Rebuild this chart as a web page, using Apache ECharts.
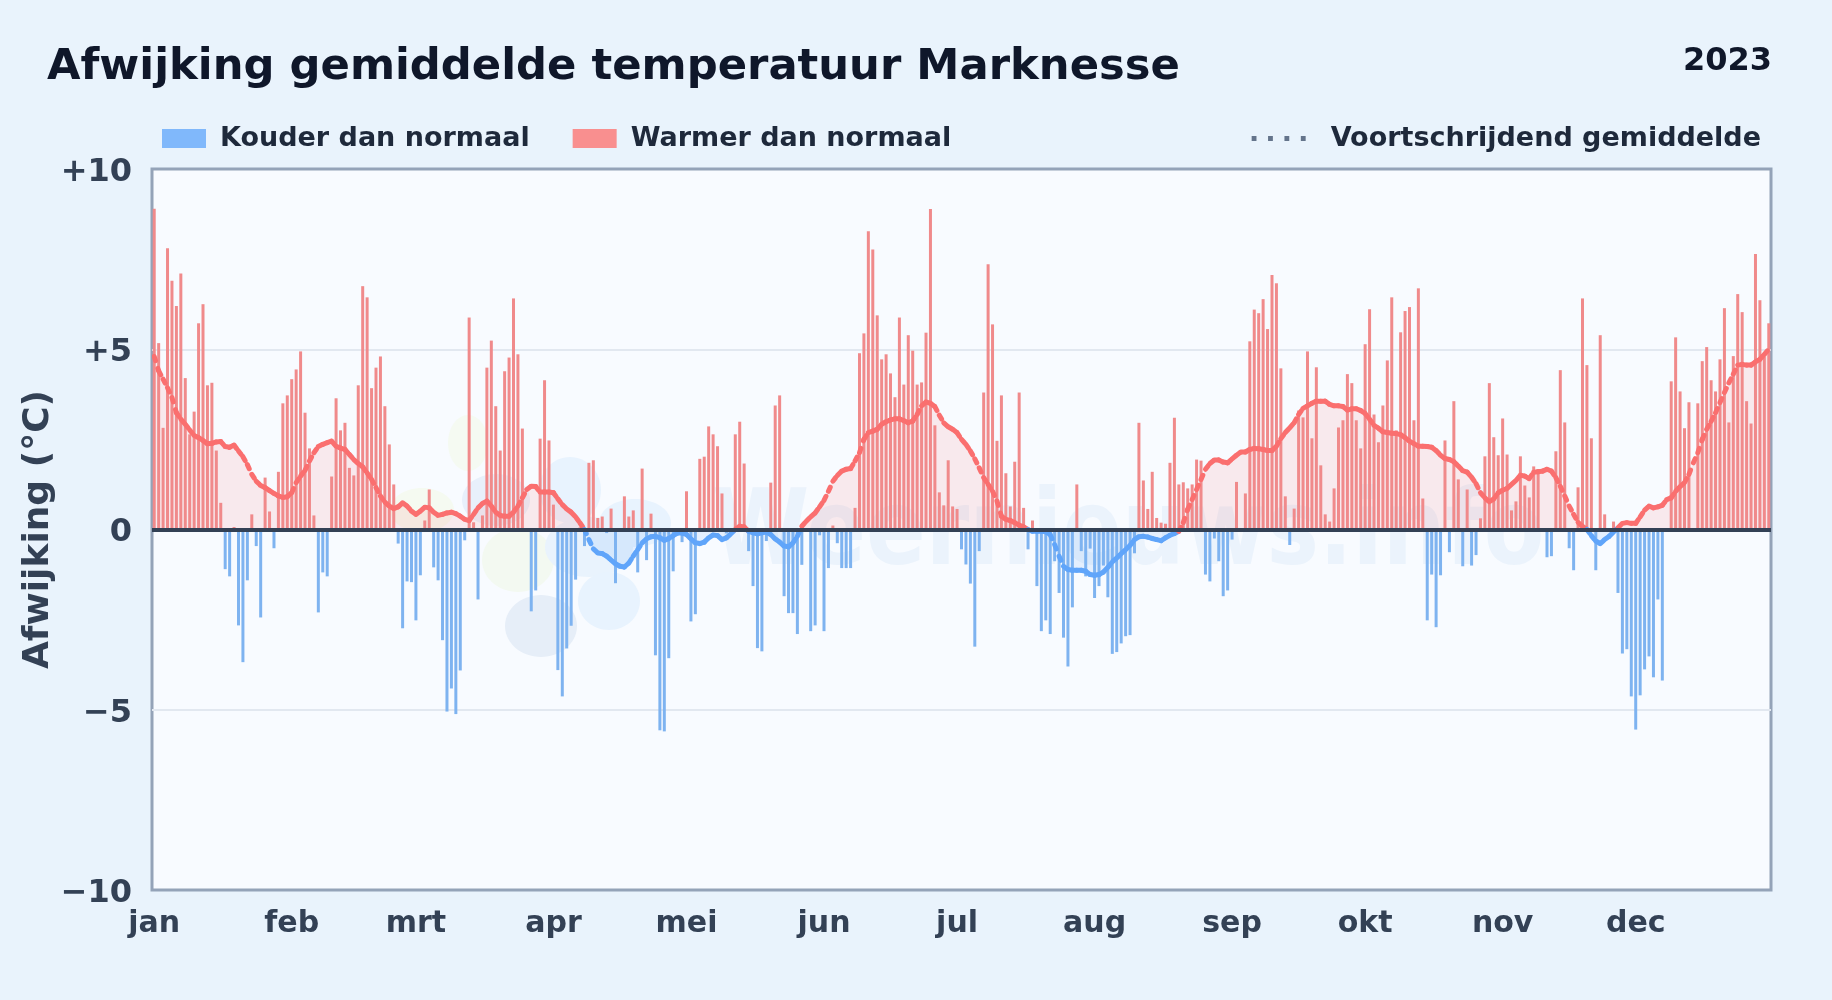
<!DOCTYPE html>
<html><head><meta charset="utf-8">
<style>html,body{margin:0;padding:0;background:#e9f3fc}#c{width:1832px;height:1000px}</style>
<script src="https://cdn.jsdelivr.net/npm/echarts@6/dist/echarts.min.js"></script>
</head><body><div id="c"></div>
<script>
const titleText = "Afwijking gemiddelde temperatuur Marknesse";
const yearText = "2023";
const watermarkText = "Weernieuws.info";
const yAxisName = "Afwijking (°C)";
const coldName = "Kouder dan normaal";
const warmName = "Warmer dan normaal";
const avgName = "Voortschrijdend gemiddelde";
const monthLabels = ["jan","feb","mrt","apr","mei","jun","jul","aug","sep","okt","nov","dec"];
const monthStarts = [0,31,59,90,120,151,181,212,243,273,304,334];
const yTicks = {"10":"+10","5":"+5","0":"0","-5":"\u22125","-10":"\u221210"};

const janMar = [8.9,5.17,2.82,7.8,6.9,6.2,7.1,4.2,2.64,3.27,5.72,6.25,4.0,4.07,2.19,0.74,-1.1,-1.3,0.07,-2.66,-3.68,-1.41,0.42,-0.46,-2.44,1.44,0.5,-0.52,1.6,3.5,3.72,4.17,4.44,4.94,3.24,2.25,0.39,-2.3,-1.19,-1.3,1.47,3.64,2.75,2.96,1.71,1.5,4.0,6.75,6.44,3.92,4.49,4.8,3.42,2.36,1.25,-0.39,-2.74,-1.44,-1.46,-2.52,-1.27,0.25,1.11,-1.05,-1.41,-3.07,-5.05,-4.41,-5.12,-3.91,-0.3,5.88,0.2,-1.94,0.39,4.49,5.24,3.42,2.19,4.39,4.77,6.41,4.86,2.8,0,-2.27,-1.69,2.52,4.14,2.47];
const aprJun = [0.69,-3.9,-4.63,-3.3,-2.67,-1.39,0.06,-0.46,1.85,1.92,0.32,0.36,-0.1,0.58,-1.49,0,0.92,0.36,0.53,-1.19,1.69,-0.85,0.44,-3.49,-5.57,-5.6,-3.57,-1.16,0,-0.35,1.06,-2.55,-2.35,1.96,2.02,2.86,2.64,2.31,1.0,-0.11,0,2.64,2.99,1.83,-0.6,-1.57,-3.29,-3.38,-0.32,1.3,3.44,3.72,-1.85,-2.32,-2.32,-2.9,-0.98,0,-2.82,-2.66,-0.16,-2.82,-1.07,0.11,-0.38,-1.07,-1.07,-1.07,0.6,4.89,5.44,8.27,7.77,5.94,4.72,4.86,4.33,3.67,5.88,4.02,5.39,4.96,4.02,4.08,5.46,8.89,2.89,1.03,0.67,1.92,0.64];
const julSep = [0.57,-0.55,-0.97,-1.5,-3.25,-0.6,3.8,7.36,5.69,2.46,3.72,1.56,0.64,1.88,3.8,0.6,-0.55,0.25,-1.57,-2.82,-2.52,-2.9,-0.88,-1.76,-3.0,-3.8,-2.16,1.25,-0.6,-1.3,-0.53,-1.9,-1.57,-1.0,-1.88,-3.45,-3.4,-3.16,-2.96,-2.93,-0.66,2.96,1.36,0.57,1.6,0.32,0.19,0.16,1.85,3.1,1.25,1.31,1.14,1.25,1.94,1.91,-1.25,-1.44,-0.25,-0.88,-1.85,-1.69,-0.28,1.32,0,1.0,5.22,6.1,6.0,6.39,5.56,7.06,6.83,4.47,0.92,-0.43,0.58,3.3,3.11,4.94,2.53,4.5,1.78,0.42,0.22,1.14,2.83,3.03,4.31,4.06,3.03,2.25];
const oktDec = [5.14,6.11,3.19,2.42,3.44,4.69,6.44,2.75,5.47,6.06,6.17,3.03,6.69,0.86,-2.52,-1.25,-2.71,-1.27,2.47,-0.63,3.56,1.39,-1.02,1.11,-1.0,-0.71,0.31,2.03,4.06,2.56,2.06,3.08,2.08,0.53,0.78,2.03,1.22,0.89,1.75,1.67,-0.07,-0.77,-0.74,2.17,4.42,2.97,-0.52,-1.13,1.17,6.41,4.56,2.53,-1.13,5.39,0.42,0,0.22,-1.76,-3.44,-3.32,-4.63,-5.55,-4.6,-3.88,-3.52,-4.1,-1.94,-4.19,0,4.11,5.33,3.83,2.81,3.53,0,3.5,4.67,5.06,4.14,3.83,4.72,6.14,2.97,4.81,6.53,6.03,3.56,2.94,7.64,6.36,4.8,5.72];

const avgJanMar = [4.8,4.4,4.17,3.93,3.66,3.24,3.06,2.92,2.76,2.61,2.55,2.47,2.38,2.39,2.43,2.44,2.3,2.28,2.34,2.18,2.02,1.8,1.53,1.34,1.22,1.16,1.08,1.0,0.93,0.89,0.91,1.02,1.3,1.48,1.64,1.9,2.13,2.3,2.36,2.41,2.45,2.31,2.26,2.22,2.08,1.94,1.83,1.74,1.57,1.39,1.16,0.93,0.76,0.65,0.58,0.63,0.74,0.65,0.51,0.42,0.51,0.62,0.6,0.48,0.39,0.42,0.46,0.48,0.44,0.37,0.28,0.25,0.42,0.6,0.72,0.79,0.65,0.48,0.39,0.37,0.37,0.48,0.65,0.88,1.11,1.2,1.19,1.04,1.04,1.04];
const avgAprJun = [1.02,0.85,0.69,0.57,0.48,0.35,0.18,0,-0.28,-0.54,-0.65,-0.67,-0.74,-0.85,-0.95,-1.02,-1.04,-0.93,-0.74,-0.56,-0.37,-0.26,-0.2,-0.19,-0.23,-0.3,-0.25,-0.17,-0.1,-0.1,-0.14,-0.26,-0.37,-0.39,-0.35,-0.23,-0.15,-0.17,-0.28,-0.23,-0.12,0,0.09,0.07,-0.05,-0.09,-0.12,-0.09,-0.07,-0.14,-0.26,-0.35,-0.46,-0.48,-0.37,-0.19,0.09,0.23,0.35,0.46,0.63,0.81,1.06,1.34,1.5,1.62,1.67,1.69,1.9,2.13,2.5,2.69,2.73,2.78,2.92,2.99,3.04,3.07,3.07,3.02,2.96,3.01,3.19,3.43,3.54,3.5,3.41,3.17,2.96,2.85,2.78];
const avgJulSep = [2.69,2.5,2.36,2.18,1.96,1.71,1.44,1.25,1.06,0.79,0.37,0.28,0.25,0.19,0.12,0.07,0,-0.05,-0.05,-0.05,-0.06,-0.14,-0.42,-0.74,-1.02,-1.11,-1.13,-1.13,-1.13,-1.16,-1.25,-1.27,-1.25,-1.18,-1.05,-0.9,-0.79,-0.67,-0.56,-0.44,-0.28,-0.2,-0.19,-0.21,-0.25,-0.28,-0.31,-0.23,-0.16,-0.11,-0.05,0.19,0.56,0.83,1.11,1.39,1.67,1.83,1.93,1.93,1.87,1.85,1.96,2.06,2.15,2.15,2.22,2.25,2.24,2.22,2.19,2.19,2.31,2.52,2.69,2.82,2.96,3.19,3.36,3.43,3.5,3.56,3.56,3.56,3.47,3.43,3.43,3.41,3.31,3.35,3.35,3.3];
const avgOktDec = [3.22,3.06,2.89,2.81,2.71,2.69,2.67,2.66,2.63,2.55,2.45,2.38,2.31,2.31,2.3,2.28,2.19,2.06,1.97,1.94,1.88,1.76,1.63,1.59,1.45,1.27,1.02,0.88,0.77,0.85,1.02,1.09,1.14,1.25,1.36,1.51,1.48,1.41,1.59,1.6,1.62,1.67,1.62,1.44,1.2,0.93,0.65,0.42,0.2,0.09,0,-0.17,-0.32,-0.39,-0.28,-0.19,-0.07,0.05,0.17,0.19,0.17,0.17,0.35,0.54,0.65,0.6,0.63,0.67,0.83,0.88,1.06,1.19,1.3,1.53,1.85,2.13,2.5,2.78,3.0,3.24,3.52,3.8,4.07,4.31,4.56,4.58,4.56,4.56,4.65,4.72,4.86,5.0];

const daily = [...janMar, ...aprJun, ...julSep, ...oktDec];
const avg = [...avgJanMar, ...avgAprJun, ...avgJulSep, ...avgOktDec];

const coldData = [], warmData = [];
daily.forEach((v,i)=>{ (v<0?coldData:warmData).push([i+0.5,v]); });
const areaWarm = avg.map((v,i)=>[i+0.5,Math.max(v,0)]);
const areaCold = avg.map((v,i)=>[i+0.5,Math.min(v,0)]);
const segs = [];
for(let i=0;i<avg.length-1;i++) segs.push([i+0.5,avg[i],i+1.5,avg[i+1]]);
const labelPositions = monthStarts.map(d=>d+0.5);

const chart = echarts.init(document.getElementById('c'),null,{renderer:'canvas'});
const FF = '"DejaVu Sans"';
const RED='#f87171', BLUE='#60a5fa', BARRED='#f08a8b', BARBLUE='#7eb3f0', LRED='#fa6f6f', LBLUE='#60a5fa';
const dotsIcon='path://M0 0h5v5H0zM17 0h5v5H17zM34 0h5v5H34zM51 0h5v5H51z';
const blob=(cx,cy,rx,ry,fill)=>({type:'ellipse',z:1,silent:true,shape:{cx,cy,rx,ry},style:{fill}});

chart.setOption({
  animation:false,
  backgroundColor:'#e9f3fc',
  textStyle:{fontFamily:FF},
  title:[
    {text:titleText,left:42,top:41.5,textStyle:{fontFamily:FF,fontSize:43.3,fontWeight:'bold',color:'#0f172a'}},
    {text:yearText,right:55,top:41,textStyle:{fontFamily:FF,fontSize:32,fontWeight:'bold',color:'#0f172a'}}
  ],
  legend:[
    {left:157,top:120,itemWidth:44,itemHeight:19,itemGap:43,selectedMode:false,
     data:[{name:coldName,icon:'rect',itemStyle:{color:'#80b8fb',opacity:1}},{name:warmName,icon:'rect',itemStyle:{color:'#f98f8f',opacity:1}}],
     textStyle:{fontFamily:FF,fontSize:27,fontWeight:'bold',color:'#1e293b',padding:[0,0,0,9]}},
    {right:66,top:120,itemWidth:54,itemHeight:5,selectedMode:false,
     data:[{name:avgName,icon:dotsIcon,itemStyle:{color:'#64748b'}}],
     textStyle:{fontFamily:FF,fontSize:27,fontWeight:'bold',color:'#1e293b',padding:[0,0,0,20]}}
  ],
  grid:{left:152,right:61,top:169,bottom:110,show:true,backgroundColor:'#f8fbff',borderColor:'#94a3b8',borderWidth:3,z:0},
  xAxis:{type:'value',min:0,max:365,
    axisLine:{show:false},axisTick:{show:false},splitLine:{show:false},
    axisLabel:{customValues:labelPositions,margin:19,fontFamily:FF,fontSize:30,fontWeight:'bold',color:'#334155',
      hideOverlap:false,showMinLabel:true,showMaxLabel:true,
      formatter:v=>monthLabels[labelPositions.indexOf(v)]||''}},
  yAxis:{type:'value',min:-10,max:10,interval:5,name:yAxisName,nameLocation:'middle',nameGap:95,nameRotate:90,nameMoveOverlap:false,
    nameTextStyle:{fontFamily:FF,fontSize:36,fontWeight:'bold',color:'#334155'},
    axisLine:{show:false},axisTick:{show:false},
    splitLine:{show:true,showMinLine:false,showMaxLine:false,lineStyle:{color:'#e2e8f0',width:2}},
    axisLabel:{margin:20,fontFamily:FF,fontSize:32,fontWeight:'bold',color:'#334155',
      formatter:v=>'{t|'+yTicks[String(v)]+'}',
      rich:{t:{fontFamily:FF,fontSize:32,fontWeight:'bold',color:'#334155',padding:[7,0,0,0]}}}},
  graphic:[
    blob(468,443,20,28,'#f5faf2'),
    blob(422,510,32,22,'#f5faf1'),
    blob(518,560,36,32,'#f3f9f1'),
    blob(496,500,34,26,'#e8f0fb'),
    blob(570,490,31,33,'#e8f3fe'),
    blob(635,523,36,24,'#e8f3fe'),
    blob(589,547,44,30,'#e9f3fd'),
    blob(609,601,31,29,'#e8f3fe'),
    blob(541,626,36,31,'#e6eef8'),
    {type:'text',z:1,silent:true,x:712,y:484,scaleX:0.84,style:{text:watermarkText,fontFamily:FF,fontSize:105,fontWeight:'bold',fill:'#ebf3fc'}}
  ],
  series:[
    {type:'line',name:'area warm',data:areaWarm,showSymbol:false,silent:true,lineStyle:{width:0},areaStyle:{color:RED,opacity:.13},z:2,tooltip:{show:false}},
    {type:'line',name:'area cold',data:areaCold,showSymbol:false,silent:true,lineStyle:{width:0},areaStyle:{color:BLUE,opacity:.13},z:2,tooltip:{show:false}},
    {type:'bar',name:coldName,data:coldData,barWidth:3,barGap:'-100%',itemStyle:{color:BARBLUE},z:3},
    {type:'bar',name:warmName,data:warmData,barWidth:3,barGap:'-100%',itemStyle:{color:BARRED},z:3,
      markLine:{silent:true,symbol:'none',label:{show:false},z:6,lineStyle:{color:'#334155',width:4,type:'solid'},data:[{yAxis:0}]}},
    {type:'custom',name:avgName,data:segs,encode:{x:[0,2],y:[1,3]},z:5,clip:true,
      itemStyle:{color:'#64748b'},
      renderItem:(params,api)=>{
        const a=api.coord([api.value(0),api.value(1)]), b=api.coord([api.value(2),api.value(3)]);
        const m=(api.value(1)+api.value(3))/2;
        return {type:'line',shape:{x1:a[0],y1:a[1],x2:b[0],y2:b[1]},
          style:{stroke:m<0?LBLUE:LRED,lineWidth:5,lineCap:'round',lineDash:[4.5,8],fill:null}};
      }}
  ]
});
</script></body></html>
